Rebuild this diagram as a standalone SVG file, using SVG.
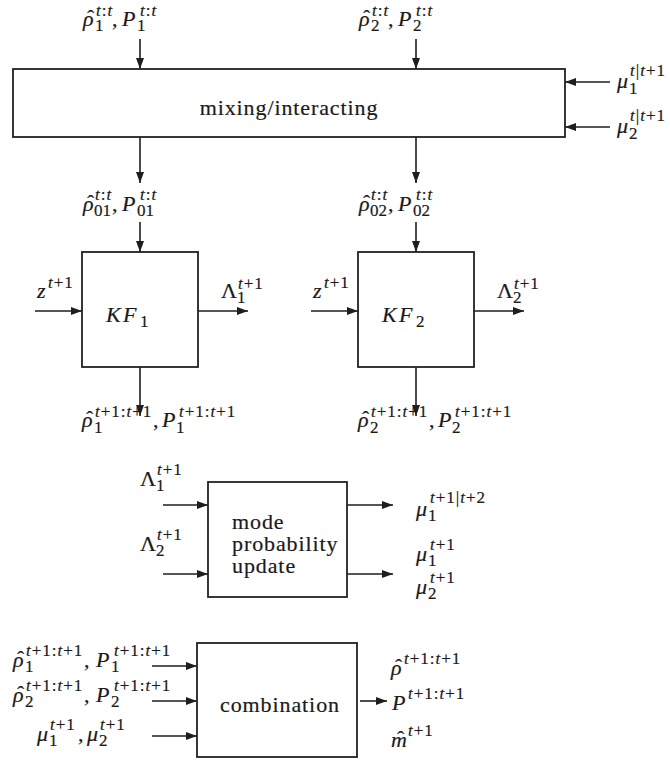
<svg xmlns="http://www.w3.org/2000/svg" width="670" height="761" viewBox="0 0 670 761">
<defs>
<marker id="ah" markerUnits="userSpaceOnUse" markerWidth="12" markerHeight="8" refX="11" refY="4" orient="auto">
<path d="M0,0 L11,4 L0,8 z" fill="#1e1e1e"/>
</marker>
</defs>
<rect width="670" height="761" fill="#fff"/>

<g id="connectors" stroke="#1e1e1e" stroke-width="1.6" fill="none" marker-end="url(#ah)">
<path d="M140,39 V69"/>
<path d="M416,39 V69"/>
<path d="M610,82 H565"/>
<path d="M610,127 H565"/>
<path d="M140,137 V183"/>
<path d="M416,137 V183"/>
<path d="M140,222 V252"/>
<path d="M416,222 V252"/>
<path d="M35,311 H82"/>
<path d="M311,311 H358"/>
<path d="M198,311 H248"/>
<path d="M474,311 H524"/>
<path d="M140,367 V416"/>
<path d="M416,367 V416"/>
<path d="M163,505 H208"/>
<path d="M163,574 H208"/>
<path d="M347,505 H393"/>
<path d="M347,574 H393"/>
<path d="M152,666 H197"/>
<path d="M152,701 H197"/>
<path d="M152,736 H197"/>
<path d="M360,701 H387"/>
</g>

<g id="mixing">
<rect x="13" y="69" width="552" height="68" fill="#fff" stroke="#222" stroke-width="1.8"/>
<text x="289" y="115" text-anchor="middle" font-family="Liberation Serif" font-size="22" letter-spacing="0.9" fill="#1a1a1a" stroke="#1a1a1a" stroke-width="0.2">mixing/interacting</text>
</g>

<g id="kf1">
<rect x="82" y="252" width="116" height="115" fill="#fff" stroke="#222" stroke-width="1.8"/>
<text font-family="Liberation Serif" font-size="22" fill="#1a1a1a" stroke="#1a1a1a" stroke-width="0.2"><tspan font-style="italic" x="106" y="322">K</tspan><tspan font-style="italic" x="123" y="322">F</tspan><tspan font-size="17" x="140" y="327">1</tspan></text>
</g>

<g id="kf2">
<rect x="358" y="252" width="116" height="115" fill="#fff" stroke="#222" stroke-width="1.8"/>
<text font-family="Liberation Serif" font-size="22" fill="#1a1a1a" stroke="#1a1a1a" stroke-width="0.2"><tspan font-style="italic" x="382" y="322">K</tspan><tspan font-style="italic" x="399" y="322">F</tspan><tspan font-size="17" x="416" y="327">2</tspan></text>
</g>

<g id="mode">
<rect x="208" y="482" width="139" height="115" fill="#fff" stroke="#222" stroke-width="1.8"/>
<text font-family="Liberation Serif" font-size="22" letter-spacing="0.9" fill="#1a1a1a" stroke="#1a1a1a" stroke-width="0.2"><tspan x="232" y="529">mode</tspan><tspan x="232" y="551">probability</tspan><tspan x="232" y="573">update</tspan></text>
</g>

<g id="combination">
<rect x="197" y="643" width="160" height="114" fill="#fff" stroke="#222" stroke-width="1.8"/>
<text x="280" y="712" text-anchor="middle" font-family="Liberation Serif" font-size="22" letter-spacing="0.9" fill="#1a1a1a" stroke="#1a1a1a" stroke-width="0.2">combination</text>
</g>

<g id="labels" font-family="Liberation Serif" font-size="22" fill="#1a1a1a" stroke="#1a1a1a" stroke-width="0.2">
<text font-family="Liberation Serif"><tspan font-style="italic" x="83" y="26">ρ</tspan><tspan x="87" y="25">ˆ</tspan><tspan font-size="17" x="95" y="31">1</tspan><tspan font-size="17" font-style="italic" x="96" y="16">t</tspan><tspan font-size="17" dx="1">:</tspan><tspan font-size="17" font-style="italic" dx="1">t</tspan><tspan x="112" y="26">,</tspan><tspan font-style="italic" x="122" y="26">P</tspan><tspan font-size="17" x="137" y="31">1</tspan><tspan font-size="17" font-style="italic" x="140" y="16">t</tspan><tspan font-size="17" dx="1">:</tspan><tspan font-size="17" font-style="italic" dx="1">t</tspan></text>
<text font-family="Liberation Serif"><tspan font-style="italic" x="359" y="26">ρ</tspan><tspan x="363" y="25">ˆ</tspan><tspan font-size="17" x="371" y="31">2</tspan><tspan font-size="17" font-style="italic" x="372" y="16">t</tspan><tspan font-size="17" dx="1">:</tspan><tspan font-size="17" font-style="italic" dx="1">t</tspan><tspan x="388" y="26">,</tspan><tspan font-style="italic" x="398" y="26">P</tspan><tspan font-size="17" x="413" y="31">2</tspan><tspan font-size="17" font-style="italic" x="416" y="16">t</tspan><tspan font-size="17" dx="1">:</tspan><tspan font-size="17" font-style="italic" dx="1">t</tspan></text>
<text font-family="Liberation Serif"><tspan font-style="italic" x="617" y="88">μ</tspan><tspan font-size="17" x="629" y="94">1</tspan><tspan font-size="17" font-style="italic" x="630" y="76">t</tspan><tspan font-size="17" dx="1">|</tspan><tspan font-size="17" font-style="italic" dx="1">t</tspan><tspan font-size="17" letter-spacing="1" dx="1">+1</tspan></text>
<text font-family="Liberation Serif"><tspan font-style="italic" x="617" y="133">μ</tspan><tspan font-size="17" x="629" y="139">2</tspan><tspan font-size="17" font-style="italic" x="630" y="121">t</tspan><tspan font-size="17" dx="1">|</tspan><tspan font-size="17" font-style="italic" dx="1">t</tspan><tspan font-size="17" letter-spacing="1" dx="1">+1</tspan></text>
<text font-family="Liberation Serif"><tspan font-style="italic" x="83" y="211">ρ</tspan><tspan x="87" y="210">ˆ</tspan><tspan font-size="17" x="94" y="216">01</tspan><tspan font-size="17" font-style="italic" x="95" y="200">t</tspan><tspan font-size="17" dx="1">:</tspan><tspan font-size="17" font-style="italic" dx="1">t</tspan><tspan x="112" y="211">,</tspan><tspan font-style="italic" x="122" y="211">P</tspan><tspan font-size="17" x="137" y="216">01</tspan><tspan font-size="17" font-style="italic" x="140" y="200">t</tspan><tspan font-size="17" dx="1">:</tspan><tspan font-size="17" font-style="italic" dx="1">t</tspan></text>
<text font-family="Liberation Serif"><tspan font-style="italic" x="359" y="211">ρ</tspan><tspan x="363" y="210">ˆ</tspan><tspan font-size="17" x="370" y="216">02</tspan><tspan font-size="17" font-style="italic" x="371" y="200">t</tspan><tspan font-size="17" dx="1">:</tspan><tspan font-size="17" font-style="italic" dx="1">t</tspan><tspan x="388" y="211">,</tspan><tspan font-style="italic" x="398" y="211">P</tspan><tspan font-size="17" x="413" y="216">02</tspan><tspan font-size="17" font-style="italic" x="416" y="200">t</tspan><tspan font-size="17" dx="1">:</tspan><tspan font-size="17" font-style="italic" dx="1">t</tspan></text>
<text font-family="Liberation Serif"><tspan font-style="italic" x="37" y="298">z</tspan><tspan font-size="17" font-style="italic" x="48" y="288">t</tspan><tspan font-size="17" letter-spacing="1" dx="1">+1</tspan></text>
<text font-family="Liberation Serif"><tspan font-style="italic" x="313" y="298">z</tspan><tspan font-size="17" font-style="italic" x="324" y="288">t</tspan><tspan font-size="17" letter-spacing="1" dx="1">+1</tspan></text>
<text font-family="Liberation Serif"><tspan x="221" y="298">Λ</tspan><tspan font-size="17" x="237" y="303">1</tspan><tspan font-size="17" font-style="italic" x="238" y="289">t</tspan><tspan font-size="17" letter-spacing="1" dx="1">+1</tspan></text>
<text font-family="Liberation Serif"><tspan x="497" y="298">Λ</tspan><tspan font-size="17" x="513" y="303">2</tspan><tspan font-size="17" font-style="italic" x="514" y="289">t</tspan><tspan font-size="17" letter-spacing="1" dx="1">+1</tspan></text>
<text font-family="Liberation Serif"><tspan font-style="italic" x="82" y="427">ρ</tspan><tspan x="86" y="426">ˆ</tspan><tspan font-size="17" x="94" y="433">1</tspan><tspan font-size="17" font-style="italic" x="95" y="417">t</tspan><tspan font-size="17" letter-spacing="1" dx="1">+1:</tspan><tspan font-size="17" font-style="italic">t</tspan><tspan font-size="17" letter-spacing="1" dx="1">+1</tspan><tspan x="153" y="427">,</tspan><tspan font-style="italic" x="162" y="427">P</tspan><tspan font-size="17" x="176" y="433">1</tspan><tspan font-size="17" font-style="italic" x="179" y="417">t</tspan><tspan font-size="17" letter-spacing="1" dx="1">+1:</tspan><tspan font-size="17" font-style="italic">t</tspan><tspan font-size="17" letter-spacing="1" dx="1">+1</tspan></text>
<text font-family="Liberation Serif"><tspan font-style="italic" x="358" y="427">ρ</tspan><tspan x="362" y="426">ˆ</tspan><tspan font-size="17" x="370" y="433">2</tspan><tspan font-size="17" font-style="italic" x="371" y="417">t</tspan><tspan font-size="17" letter-spacing="1" dx="1">+1:</tspan><tspan font-size="17" font-style="italic">t</tspan><tspan font-size="17" letter-spacing="1" dx="1">+1</tspan><tspan x="429" y="427">,</tspan><tspan font-style="italic" x="438" y="427">P</tspan><tspan font-size="17" x="452" y="433">2</tspan><tspan font-size="17" font-style="italic" x="455" y="417">t</tspan><tspan font-size="17" letter-spacing="1" dx="1">+1:</tspan><tspan font-size="17" font-style="italic">t</tspan><tspan font-size="17" letter-spacing="1" dx="1">+1</tspan></text>
<text font-family="Liberation Serif"><tspan x="140" y="486">Λ</tspan><tspan font-size="17" x="156" y="491">1</tspan><tspan font-size="17" font-style="italic" x="157" y="475">t</tspan><tspan font-size="17" letter-spacing="1" dx="1">+1</tspan></text>
<text font-family="Liberation Serif"><tspan x="140" y="551">Λ</tspan><tspan font-size="17" x="156" y="556">2</tspan><tspan font-size="17" font-style="italic" x="157" y="540">t</tspan><tspan font-size="17" letter-spacing="1" dx="1">+1</tspan></text>
<text font-family="Liberation Serif"><tspan font-style="italic" x="416" y="516">μ</tspan><tspan font-size="17" x="428" y="521">1</tspan><tspan font-size="17" font-style="italic" x="430" y="503">t</tspan><tspan font-size="17" letter-spacing="1" dx="1">+1|</tspan><tspan font-size="17" font-style="italic">t</tspan><tspan font-size="17" letter-spacing="1" dx="1">+2</tspan></text>
<text font-family="Liberation Serif"><tspan font-style="italic" x="416" y="561">μ</tspan><tspan font-size="17" x="428" y="566">1</tspan><tspan font-size="17" font-style="italic" x="430" y="550">t</tspan><tspan font-size="17" letter-spacing="1" dx="1">+1</tspan></text>
<text font-family="Liberation Serif"><tspan font-style="italic" x="416" y="594">μ</tspan><tspan font-size="17" x="428" y="599">2</tspan><tspan font-size="17" font-style="italic" x="430" y="583">t</tspan><tspan font-size="17" letter-spacing="1" dx="1">+1</tspan></text>
<text font-family="Liberation Serif"><tspan font-style="italic" x="13" y="667">ρ</tspan><tspan x="17" y="666">ˆ</tspan><tspan font-size="17" x="25" y="672">1</tspan><tspan font-size="17" font-style="italic" x="26" y="656">t</tspan><tspan font-size="17" letter-spacing="1" dx="1">+1:</tspan><tspan font-size="17" font-style="italic">t</tspan><tspan font-size="17" letter-spacing="1" dx="1">+1</tspan><tspan x="84" y="667">,</tspan><tspan font-style="italic" x="96" y="667">P</tspan><tspan font-size="17" x="111" y="672">1</tspan><tspan font-size="17" font-style="italic" x="114" y="656">t</tspan><tspan font-size="17" letter-spacing="1" dx="1">+1:</tspan><tspan font-size="17" font-style="italic">t</tspan><tspan font-size="17" letter-spacing="1" dx="1">+1</tspan></text>
<text font-family="Liberation Serif"><tspan font-style="italic" x="13" y="702">ρ</tspan><tspan x="17" y="701">ˆ</tspan><tspan font-size="17" x="25" y="707">2</tspan><tspan font-size="17" font-style="italic" x="26" y="691">t</tspan><tspan font-size="17" letter-spacing="1" dx="1">+1:</tspan><tspan font-size="17" font-style="italic">t</tspan><tspan font-size="17" letter-spacing="1" dx="1">+1</tspan><tspan x="84" y="702">,</tspan><tspan font-style="italic" x="96" y="702">P</tspan><tspan font-size="17" x="111" y="707">2</tspan><tspan font-size="17" font-style="italic" x="114" y="691">t</tspan><tspan font-size="17" letter-spacing="1" dx="1">+1:</tspan><tspan font-size="17" font-style="italic">t</tspan><tspan font-size="17" letter-spacing="1" dx="1">+1</tspan></text>
<text font-family="Liberation Serif"><tspan font-style="italic" x="37" y="741">μ</tspan><tspan font-size="17" x="49" y="746">1</tspan><tspan font-size="17" font-style="italic" x="50" y="730">t</tspan><tspan font-size="17" letter-spacing="1" dx="1">+1</tspan><tspan x="78" y="741">,</tspan><tspan font-style="italic" x="87" y="741">μ</tspan><tspan font-size="17" x="99" y="746">2</tspan><tspan font-size="17" font-style="italic" x="100" y="730">t</tspan><tspan font-size="17" letter-spacing="1" dx="1">+1</tspan></text>
<text font-family="Liberation Serif"><tspan font-style="italic" x="391" y="675">ρ</tspan><tspan x="395" y="674">ˆ</tspan><tspan font-size="17" font-style="italic" x="404" y="664">t</tspan><tspan font-size="17" letter-spacing="1" dx="1">+1:</tspan><tspan font-size="17" font-style="italic">t</tspan><tspan font-size="17" letter-spacing="1" dx="1">+1</tspan></text>
<text font-family="Liberation Serif"><tspan font-style="italic" x="392" y="710">P</tspan><tspan font-size="17" font-style="italic" x="408" y="699">t</tspan><tspan font-size="17" letter-spacing="1" dx="1">+1:</tspan><tspan font-size="17" font-style="italic">t</tspan><tspan font-size="17" letter-spacing="1" dx="1">+1</tspan></text>
<text font-family="Liberation Serif"><tspan font-style="italic" x="391" y="747">m</tspan><tspan x="397" y="746">ˆ</tspan><tspan font-size="17" font-style="italic" x="408" y="736">t</tspan><tspan font-size="17" letter-spacing="1" dx="1">+1</tspan></text>
</g>
</svg>
